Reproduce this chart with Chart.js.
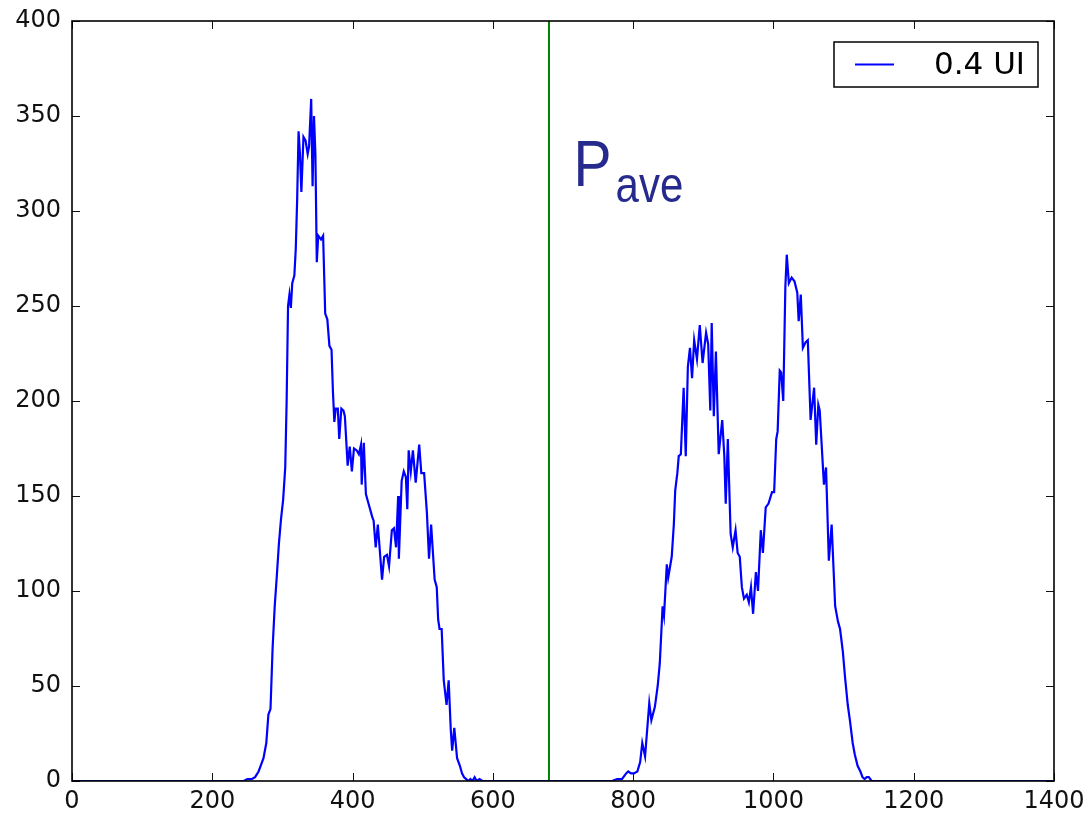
<!DOCTYPE html>
<html><head><meta charset="utf-8">
<script src="https://cdn.jsdelivr.net/npm/chart.js@4.4.0/dist/chart.umd.min.js"></script>
<style>html,body{margin:0;padding:0;background:#fff}#wrap{width:1088px;height:816px}</style>
</head><body><div id="wrap"><canvas id="c" width="1088" height="816"></canvas></div>
<script>
const seriesLabel = '0.4 UI';
const annotationMain = 'P';
const annotationSub = 'ave';
const paveX = 680;
const xTicks = [0, 200, 400, 600, 800, 1000, 1200, 1400];
const yTicks = [0, 50, 100, 150, 200, 250, 300, 350, 400];

const xValues = [
  0, 245, 250, 256, 261, 266, 270, 273, 277, 280, 283, 286, 289, 292, 295, 298, 301, 304, 306, 308,
  310, 312, 314, 317, 319, 321, 323, 325, 327, 330, 333, 336, 338, 341, 343, 345, 347, 349, 351, 355,
  358, 361, 364, 367, 370, 372, 374, 376, 379, 381, 384, 387, 389, 393, 396, 399, 402, 406, 409, 412,
  413, 416, 419, 422, 428, 430, 433, 436, 442, 445, 449, 452, 456, 459, 462, 465, 466, 470, 473, 476,
  478, 480, 483, 486, 490, 495, 498, 502, 506, 509, 512, 517, 520, 522, 524, 527, 530, 534, 537, 540,
  542, 545, 549, 553, 556, 559, 562, 565, 568, 571, 574, 577, 581, 585,
  770, 777, 784, 790, 793, 797, 801, 806, 810, 813, 817, 823, 826, 831, 835, 838, 842, 844, 848, 850,
  855, 858, 860, 863, 865, 868, 872, 875, 878, 881, 884, 887, 891, 895, 899, 904, 907, 910, 912, 915,
  918, 922, 927, 930, 932, 935, 939, 942, 946, 949, 952, 955, 958, 962, 965, 968, 971, 975, 978, 982,
  985, 989, 993, 998, 1001, 1004, 1006, 1009, 1011, 1014, 1017, 1019, 1022, 1026, 1030, 1034, 1036, 1039, 1042, 1046,
  1049, 1053, 1058, 1061, 1064, 1066, 1072, 1075, 1079, 1083, 1088, 1092, 1095, 1099, 1102, 1106, 1109, 1113, 1116, 1120,
  1124, 1127, 1130, 1133, 1136, 1140, 1400
];
const yValues = [
  0, 0, 1, 1, 2, 5, 9, 12, 20, 35, 38, 70, 92, 108, 125, 138, 148, 165, 200, 250,
  256, 249, 262, 266, 280, 306, 342, 330, 310, 339, 337, 330, 334, 359, 313, 350, 330, 273, 287, 285,
  287, 246, 243, 229, 227, 205, 189, 196, 196, 180, 196, 195, 192, 166, 176, 163, 175, 174, 172, 177,
  156, 178, 151, 147, 139, 137, 123, 135, 106, 118, 119, 113, 132, 133, 123, 150, 117, 158, 163, 160,
  143, 174, 163, 174, 157, 177, 162, 162, 141, 117, 135, 106, 102, 85, 80, 80, 53, 40, 53, 27,
  16, 28, 12, 8, 4, 2, 1, 0, 1, 0, 2, 0, 1, 0,
  0, 1, 1, 4, 5, 4, 4, 5, 10, 20, 13, 41, 32, 39, 50, 62, 92, 87, 114, 107,
  118, 135, 153, 162, 171, 172, 207, 171, 218, 228, 212, 232, 222, 240, 220, 236, 230, 195, 241, 192,
  226, 172, 190, 171, 146, 180, 130, 123, 132, 120, 118, 102, 96, 98, 94, 102, 88, 110, 100, 132,
  120, 144, 146, 152, 152, 180, 184, 216, 215, 200, 260, 277, 262, 265, 263, 257, 242, 256, 228, 231,
  232, 190, 207, 177, 198, 195, 156, 165, 116, 135, 92, 84, 80, 68, 55, 40, 32, 20, 14, 8,
  5, 2, 1, 2, 2, 0, 0
];

const histData = xValues.map((x, i) => ({ x: x, y: yValues[i] }));
const paveData = [{ x: paveX, y: yTicks[0] }, { x: paveX, y: yTicks[yTicks.length - 1] }];

const TICK_FONT = { family: 'DejaVu Sans', size: 24 };

const framePlugin = {
  id: 'frame',
  afterDatasetsDraw(chart) {
    const ctx = chart.ctx, a = chart.chartArea;
    const xs = chart.scales.x, ys = chart.scales.y;
    ctx.save();
    ctx.strokeStyle = '#111';
    ctx.lineWidth = 1;
    const tl = 8;
    ctx.beginPath();
    xTicks.forEach(v => {
      const px = Math.round(xs.getPixelForValue(v)) + 0.5;
      ctx.moveTo(px, a.bottom); ctx.lineTo(px, a.bottom - tl);
      ctx.moveTo(px, a.top); ctx.lineTo(px, a.top + tl);
    });
    yTicks.forEach(v => {
      const py = Math.round(ys.getPixelForValue(v)) + 0.5;
      ctx.moveTo(a.left, py); ctx.lineTo(a.left + tl, py);
      ctx.moveTo(a.right, py); ctx.lineTo(a.right - tl, py);
    });
    ctx.stroke();
    ctx.lineWidth = 1.6;
    ctx.strokeStyle = '#000';
    ctx.strokeRect(a.left, a.top, a.right - a.left, a.bottom - a.top);

    // legend
    const ds = chart.data.datasets[0];
    const bx = a.right - 220, by = a.top + 21, bw = 204, bh = 45;
    ctx.fillStyle = '#fff';
    ctx.fillRect(bx, by, bw, bh);
    ctx.lineWidth = 1.5;
    ctx.strokeStyle = '#000';
    ctx.strokeRect(bx, by, bw, bh);
    ctx.strokeStyle = ds.borderColor;
    ctx.lineWidth = 2;
    ctx.beginPath();
    ctx.moveTo(bx + 21, by + bh / 2); ctx.lineTo(bx + 60, by + bh / 2);
    ctx.stroke();
    ctx.fillStyle = '#000';
    ctx.font = '31px "DejaVu Sans"';
    ctx.textBaseline = 'middle';
    ctx.textAlign = 'left';
    ctx.fillText(ds.label, bx + 100, by + bh / 2 + 1);

    // annotation
    const ax = xs.getPixelForValue(715);
    const ay = ys.getPixelForValue(313);
    ctx.fillStyle = '#262a8c';
    ctx.textBaseline = 'alphabetic';
    ctx.save();
    ctx.translate(ax, ay);
    ctx.scale(1, 1.15);
    ctx.font = '57px "Liberation Sans", Arial, sans-serif';
    ctx.fillText(annotationMain, 0, 0);
    ctx.restore();
    ctx.save();
    ctx.translate(ax + 42, ay + 16);
    ctx.scale(1, 1.2);
    ctx.font = '42px "Liberation Sans", Arial, sans-serif';
    ctx.fillText(annotationSub, 0, 0);
    ctx.restore();
    ctx.restore();
  }
};

new Chart(document.getElementById('c'), {
  type: 'line',
  data: {
    datasets: [
      { label: seriesLabel, data: histData, borderColor: '#0000ff', borderWidth: 2.2, pointRadius: 0, tension: 0, fill: false },
      { label: 'Pave', data: paveData, borderColor: '#008000', borderWidth: 2, pointRadius: 0, fill: false }
    ]
  },
  options: {
    responsive: false,
    devicePixelRatio: 1,
    animation: false,
    layout: { padding: { top: 21, right: 34, left: 0, bottom: 0 } },
    plugins: { legend: { display: false }, tooltip: { enabled: false } },
    scales: {
      x: {
        type: 'linear', min: xTicks[0], max: xTicks[xTicks.length - 1],
        afterBuildTicks: s => { s.ticks = xTicks.map(v => ({ value: v })); },
        afterFit: s => { s.height = 35; s.paddingLeft = 0; s.paddingRight = 0; },
        grid: { display: false, drawTicks: false },
        border: { display: false },
        ticks: { font: TICK_FONT, color: '#111', padding: 6, maxRotation: 0, autoSkip: false, callback: v => String(v) }
      },
      y: {
        type: 'linear', min: yTicks[0], max: yTicks[yTicks.length - 1],
        afterBuildTicks: s => { s.ticks = yTicks.map(v => ({ value: v })); },
        afterFit: s => { s.width = 72; s.paddingTop = 0; s.paddingBottom = 0; },
        grid: { display: false, drawTicks: false },
        border: { display: false },
        ticks: { font: TICK_FONT, color: '#111', padding: 11, autoSkip: false, callback: v => String(v) }
      }
    }
  },
  plugins: [framePlugin]
});
</script>
</body></html>
